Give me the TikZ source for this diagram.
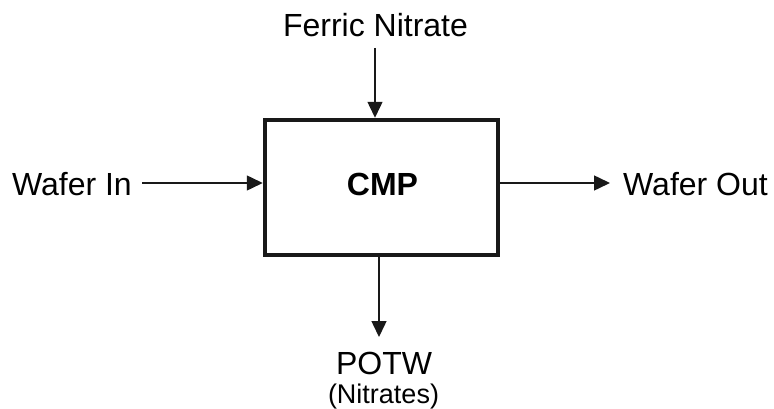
\documentclass[tikz,border=0pt]{standalone}
\usepackage{fontspec}
\setmainfont{Liberation Sans}
\usetikzlibrary{arrows.meta}
\begin{document}
\begin{tikzpicture}[x=1pt,y=1pt,
  lbl/.style={inner sep=0pt, font=\fontsize{32}{38}\selectfont},
  flow/.style={line width=1.5pt, draw=black!90, -{Triangle[length=16pt,width=15pt]}},
  proc/.style={draw=black!90, line width=4.5pt, minimum width=233pt, minimum height=135pt, inner sep=0pt}]
\useasboundingbox (0,0) rectangle (774,408);
\node[proc] (cmp) at (381.5,220.5) {};
\node[lbl, font=\bfseries\fontsize{32}{38}\selectfont] (cmpl) at (382.5,224) {CMP};
% top input
\node[lbl, anchor=base] (fn) at (375.5,371) {Ferric Nitrate};
\coordinate (fnS) at (375,360);
\draw[flow] (fnS) -- (fnS |- cmp.north);
% left input
\node[lbl, anchor=base east] (win) at (132,213) {Wafer In};
\coordinate (winE) at (142,225);
\draw[flow] (winE) -- (winE -| cmp.west);
% right output
\node[lbl, anchor=base west] (wout) at (623,213) {Wafer Out};
\coordinate (woE) at (610,225);
\draw[flow] (woE -| cmp.east) -- (woE);
% bottom output
\coordinate (potwN) at (379,71);
\draw[flow] (potwN |- cmp.south) -- (potwN);
\node[lbl, anchor=base] (potw) at (384,34) {POTW};
\node[lbl, anchor=base, font=\fontsize{27}{32}\selectfont] (nit) at (383.5,5) {(Nitrates)};
\end{tikzpicture}
\end{document}
